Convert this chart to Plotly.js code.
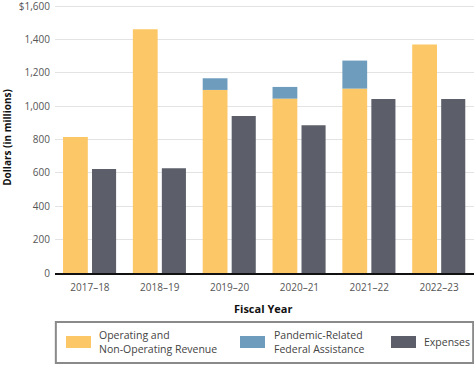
<!DOCTYPE html>
<html><head><meta charset="utf-8">
<script src="https://cdn.plot.ly/plotly-3.0.1.min.js"></script>
<style>html,body{margin:0;padding:0;background:#fff}#chart{width:474px;height:366px}</style>
</head><body><div id="chart"></div>
<script>
const years = ["2017–18","2018–19","2019–20","2020–21","2021–22","2022–23"];
const revenue = [815, 1460, 1097, 1045, 1105, 1370];
const federal = [0, 0, 70, 70, 168, 0];
const expenses = [623, 627, 941, 886, 1043, 1043];
const yTickVals = [0,200,400,600,800,1000,1200,1400,1600];
const yTickText = ["0","200","400","600","800","1,000","1,200","1,400","$1,600"];
const seriesNames = ["Operating and<br>Non-Operating Revenue","Pandemic-Related<br>Federal Assistance","Expenses"];
const colors = ["#FCC766","#6E9CBD","#5C5E69"];

const font = "'Open Sans', 'Noto Sans', sans-serif";
const traces = [
  {type:"bar", x:years, y:revenue, name:seriesNames[0], marker:{color:colors[0]}, width:0.355, offset:-0.385, showlegend:false, hoverinfo:"y"},
  {type:"bar", x:years, y:federal, base:revenue, name:seriesNames[1], marker:{color:colors[1]}, width:0.355, offset:-0.385, showlegend:false, hoverinfo:"y"},
  {type:"bar", x:years, y:expenses, name:seriesNames[2], marker:{color:colors[2]}, width:0.345, offset:0.03, showlegend:false, hoverinfo:"y"}
];

// plot area: 0 at y=273px, height 271px
const H = 271;
const toPaper = px => (273 - px) / H;

const shapes = [
  {type:"rect", xref:"paper", yref:"paper", x0:0.002, x1:0.998, y0:toPaper(363), y1:toPaper(322), line:{color:"#8a8a8a", width:2}, fillcolor:"rgba(0,0,0,0)"}
];
const annotations = [
  {text:"<b>Fiscal Year</b>", xref:"paper", yref:"paper", x:0.497, y:toPaper(308), xanchor:"center", yanchor:"middle", showarrow:false, font:{family:font, size:11, color:"#111"}}
];
const legX = [[11,36,42],[185,210,217],[336,361,367]];
for (let i=0;i<3;i++){
  const w = 419;
  shapes.push({type:"rect", xref:"paper", yref:"paper", x0:legX[i][0]/w, x1:legX[i][1]/w, y0:toPaper(348), y1:toPaper(336), line:{width:0}, fillcolor:colors[i]});
  annotations.push({text:seriesNames[i], xref:"paper", yref:"paper", x:legX[i][2]/w, y:toPaper(342), xanchor:"left", yanchor:"middle", align:"left", showarrow:false, font:{family:font, size:10.5, color:"#444"}});
}

const layout = {
  width:474, height:366,
  margin:{l:55, r:0, t:2, b:93},
  paper_bgcolor:"#fff", plot_bgcolor:"#fff",
  barmode:"overlay",
  showlegend:false,
  font:{family:font, size:10, color:"#555"},
  xaxis:{type:"category", range:[-0.5,5.5], showgrid:false, showline:true, linecolor:"#111", linewidth:1.5, ticks:"", ticklabelstandoff:4, tickfont:{size:10, color:"#555"}, fixedrange:true},
  yaxis:{range:[0,1624], tickmode:"array", tickvals:yTickVals, ticktext:yTickText, ticklabeloverflow:"allow", showgrid:true, gridcolor:"#e3e3e3", gridwidth:1, zeroline:false, showline:false, ticks:"", ticklabelstandoff:4, tickfont:{size:10, color:"#555"},
    title:{text:"<b>Dollars (in millions)</b>", font:{size:10, color:"#111"}, standoff:8}},
  shapes:shapes, annotations:annotations
};
Plotly.newPlot("chart", traces, layout, {displayModeBar:false, staticPlot:true});
</script></body></html>
